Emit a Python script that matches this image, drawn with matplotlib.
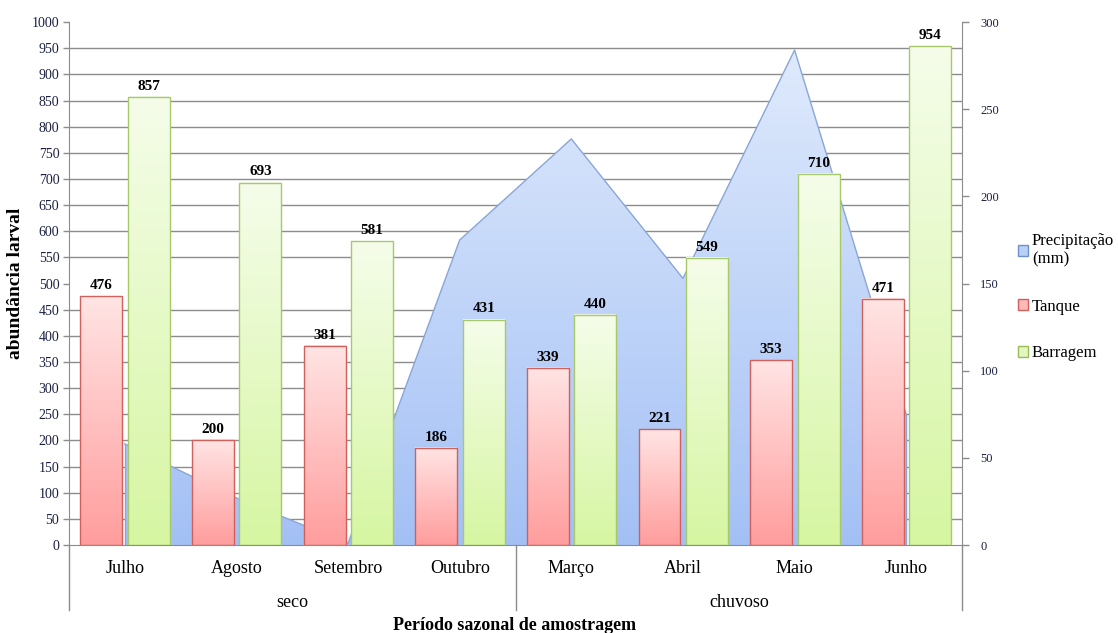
import numpy as np
import matplotlib
matplotlib.use('Agg')
import matplotlib.pyplot as plt
from matplotlib.colors import LinearSegmentedColormap
from matplotlib.patches import Patch
from matplotlib.lines import Line2D
import matplotlib.transforms as mtransforms

plt.rcParams['font.family'] = ['Liberation Serif', 'DejaVu Serif']

meses = ['Julho', 'Agosto', 'Setembro', 'Outubro', 'Março', 'Abril', 'Maio', 'Junho']
periodos = ['seco', 'chuvoso']
tanque = [476, 200, 381, 186, 339, 221, 353, 471]
barragem = [857, 693, 581, 431, 440, 549, 710, 954]
precipitacao = [58, 27, 1, 175, 233, 153, 284, 75]

x = np.arange(len(meses))
bar_w = 0.375

fig = plt.figure(figsize=(11.18, 6.33), dpi=100)
ax = fig.add_axes([0.0617, 0.139, 0.7988, 0.826])   # precipitation (right scale)
ax2 = ax.twinx()                                     # bars (left scale)

cmap_blue = LinearSegmentedColormap.from_list('b', ['#a3c0f5', '#dfeafc'])
cmap_red = LinearSegmentedColormap.from_list('r', ['#ff9d9d', '#ffe4e4'])
cmap_green = LinearSegmentedColormap.from_list('g', ['#d6f6a2', '#f5fdea'])
grad = np.linspace(0, 1, 256).reshape(-1, 1)

# precipitation area with vertical gradient
poly = ax.fill_between(x, precipitacao, 0, facecolor='none', edgecolor='none')
im = ax.imshow(grad, extent=[x[0], x[-1], 0, max(precipitacao)], origin='lower',
               aspect='auto', cmap=cmap_blue, zorder=2)
im.set_clip_path(poly.get_paths()[0], transform=ax.transData)
ax.plot(x, precipitacao, color='#8aa6d6', lw=1, zorder=3)
ax.plot([x[0], x[0]], [0, precipitacao[0]], color='#8aa6d6', lw=1, zorder=3)
ax.plot([x[-1], x[-1]], [0, precipitacao[-1]], color='#8aa6d6', lw=1, zorder=3)

ax.set_xlim(-0.5, 7.5)
ax.set_ylim(0, 300)
ax.yaxis.tick_right()
ax.set_yticks(range(0, 301, 50))
ax.set_yticks(np.arange(0, 301, 15), minor=True)
ax.grid(which='minor', axis='y', color='#8c8c8c', lw=1, zorder=0)
ax.set_axisbelow(True)
ax.tick_params(axis='y', which='major', length=5, width=1, color='#8c8c8c',
               labelsize=9, labelcolor='#1b2040', pad=8)
ax.tick_params(axis='y', which='minor', length=0)
ax.set_xticks(x)
ax.set_xticklabels(meses, fontsize=13)
ax.tick_params(axis='x', length=0, pad=11)
for s in ax.spines.values():
    s.set_visible(False)

# bars with gradients
def gradient_bars(xs, vals, cmap, edge):
    for xi, v in zip(xs, vals):
        ax2.imshow(grad, extent=[xi - bar_w / 2, xi + bar_w / 2, 0, v], origin='lower',
                   aspect='auto', cmap=cmap, zorder=2)
    ax2.bar(xs, vals, width=bar_w, facecolor='none', edgecolor=edge, lw=1, zorder=3)
    for xi, v in zip(xs, vals):
        ax2.text(xi, v + 8, str(v), ha='center', va='bottom', fontsize=11,
                 fontweight='bold', zorder=4)

gradient_bars(x - 0.21, tanque, cmap_red, '#d0605c')
gradient_bars(x + 0.215, barragem, cmap_green, '#a8c86c')

ax2.set_xlim(-0.5, 7.5)
ax2.set_ylim(0, 1000)
ax2.yaxis.tick_left()
ax2.set_yticks(range(0, 1001, 50))
ax2.tick_params(axis='y', length=4, width=1, color='#8c8c8c', labelsize=10,
                labelcolor='#1b2040', pad=3)
ax2.spines['top'].set_visible(False)
for side in ['left', 'right', 'bottom']:
    ax2.spines[side].set_color('#8c8c8c')

# second level of the category axis
trans = mtransforms.blended_transform_factory(ax2.transData, ax2.transAxes)
for xs in [-0.5, 3.5, 7.5]:
    ax2.add_line(Line2D([xs, xs], [0, -0.125], transform=trans, color='#8c8c8c',
                        lw=1, clip_on=False))
ax2.text(1.5, -0.11, periodos[0], transform=trans, ha='center', va='center', fontsize=13)
ax2.text(5.5, -0.11, periodos[1], transform=trans, ha='center', va='center', fontsize=13)

fig.text(0.46, 0.012, 'Período sazonal de amostragem', ha='center', va='center',
         fontsize=13, fontweight='bold')
fig.text(0.014, 0.553, 'abundância larval', ha='center', va='center', rotation=90,
         fontsize=14, fontweight='bold')

handles = [Patch(facecolor='#b9d0f7', edgecolor='#6f90c8'),
           Patch(facecolor='#ffb8b8', edgecolor='#d0605c'),
           Patch(facecolor='#e2f7c0', edgecolor='#9bbb59')]
fig.legend(handles, ['Precipitação\n(mm)', 'Tanque', 'Barragem'], loc='upper left',
           bbox_to_anchor=(0.897, 0.655), frameon=False, fontsize=12,
           handlelength=0.6, handleheight=0.6, handletextpad=0.25, labelspacing=1.85)

fig.savefig('out.png', dpi=100)
